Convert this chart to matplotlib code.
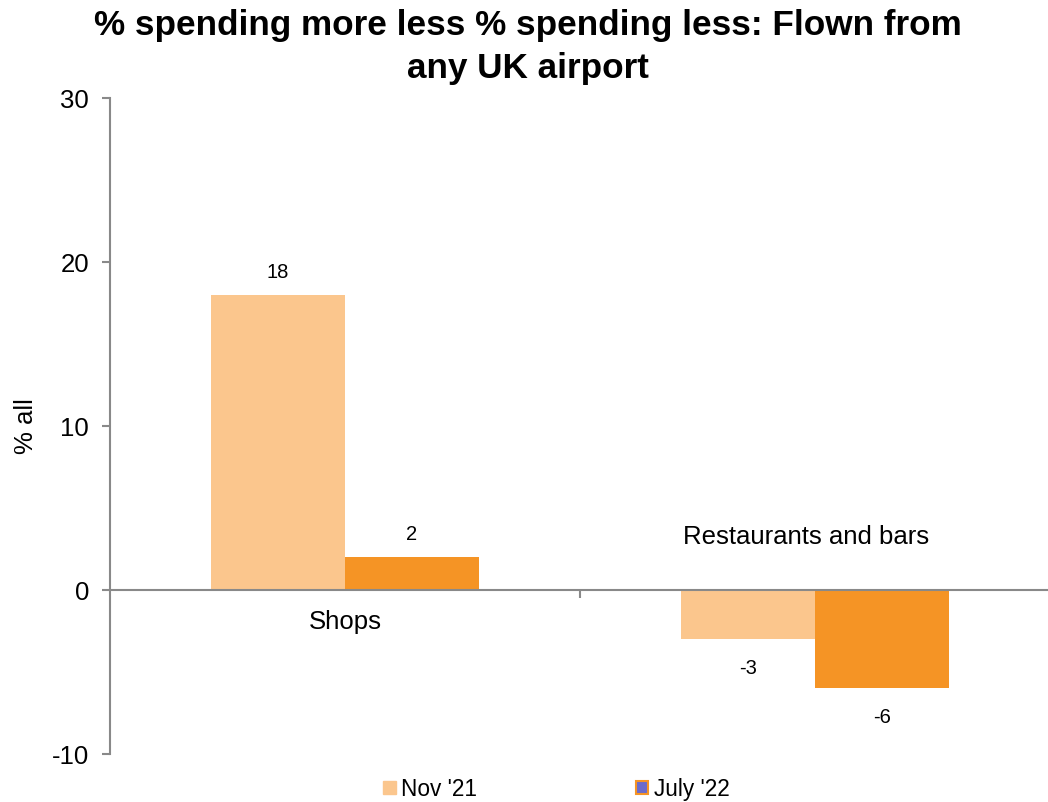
import matplotlib
matplotlib.use("Agg")
from matplotlib import pyplot as plt
from matplotlib.patches import Patch

plt.rcParams['font.family'] = ['Liberation Sans', 'DejaVu Sans']

categories = ['Shops', 'Restaurants and bars']
series_names = ["Nov '21", "July '22"]
nov21 = [18, -3]
july22 = [2, -6]
yticks = [-10, 0, 10, 20, 30]

light = '#FBC68D'
dark = '#F59425'
grey = '#898989'

fig = plt.figure(figsize=(10.48, 8.02), dpi=100)
ax = fig.add_axes([110/1048, 48/802, 940/1048, 656/802])

w = 0.285
x = [0, 1]
b1 = ax.bar([i - w/2 for i in x], nov21, width=w, color=light, linewidth=0)
b2 = ax.bar([i + w/2 for i in x], july22, width=w, color=dark, linewidth=0)

# data labels
for bars, vals in [(b1, nov21), (b2, july22)]:
    for r, v in zip(bars, vals):
        cx = r.get_x() + r.get_width()/2
        if v >= 0:
            ax.annotate(str(v), (cx, v), xytext=(0, 16), textcoords='offset points',
                        ha='center', va='center', fontsize=14.5)
        else:
            ax.annotate(str(v), (cx, v), xytext=(0, -21), textcoords='offset points',
                        ha='center', va='center', fontsize=14.5)

# category labels, excel puts them on different sides of the zero line
ax.annotate(categories[0], (0, 0), xytext=(0, -23), textcoords='offset points',
            ha='center', va='center', fontsize=18.5)
ax.annotate(categories[1], (1, 0), xytext=(-6.5, 38), textcoords='offset points',
            ha='center', va='center', fontsize=18.5)

ax.set_xlim(-0.5, 1.5)
ax.set_ylim(-10, 30)
ax.set_yticks(yticks)
ax.set_yticklabels([str(t) for t in yticks], fontsize=18.5)
ax.set_xticks([0.5])
ax.set_xticklabels([''])

ax.spines['top'].set_visible(False)
ax.spines['right'].set_visible(False)
ax.spines['bottom'].set_position(('data', 0))
for s in ['left', 'bottom']:
    ax.spines[s].set_color(grey)
    ax.spines[s].set_linewidth(1.5)
ax.tick_params(axis='both', colors=grey, length=6, width=1.5, direction='out')
ax.tick_params(axis='y', labelcolor='black', pad=9)

ax.set_ylabel('% all', fontsize=18.5)
ax.yaxis.set_label_coords(-0.077, 0.5)

fig.text(0.504, 0.989, '% spending more less % spending less: Flown from\nany UK airport',
         ha='center', va='top', fontsize=25.3, fontweight='bold', linespacing=1.4)

handles = [Patch(facecolor=light, edgecolor=light),
           Patch(facecolor='#6B6BCB', edgecolor=dark, linewidth=1.5)]
fig.legend(handles, series_names, loc='center', bbox_to_anchor=(0.531, 0.016), ncol=2,
           frameon=False, fontsize=16.3, handlelength=0.55, handleheight=0.55,
           handletextpad=0.25, columnspacing=7.0, borderpad=0, borderaxespad=0)

fig.savefig('out.png', dpi=100)
